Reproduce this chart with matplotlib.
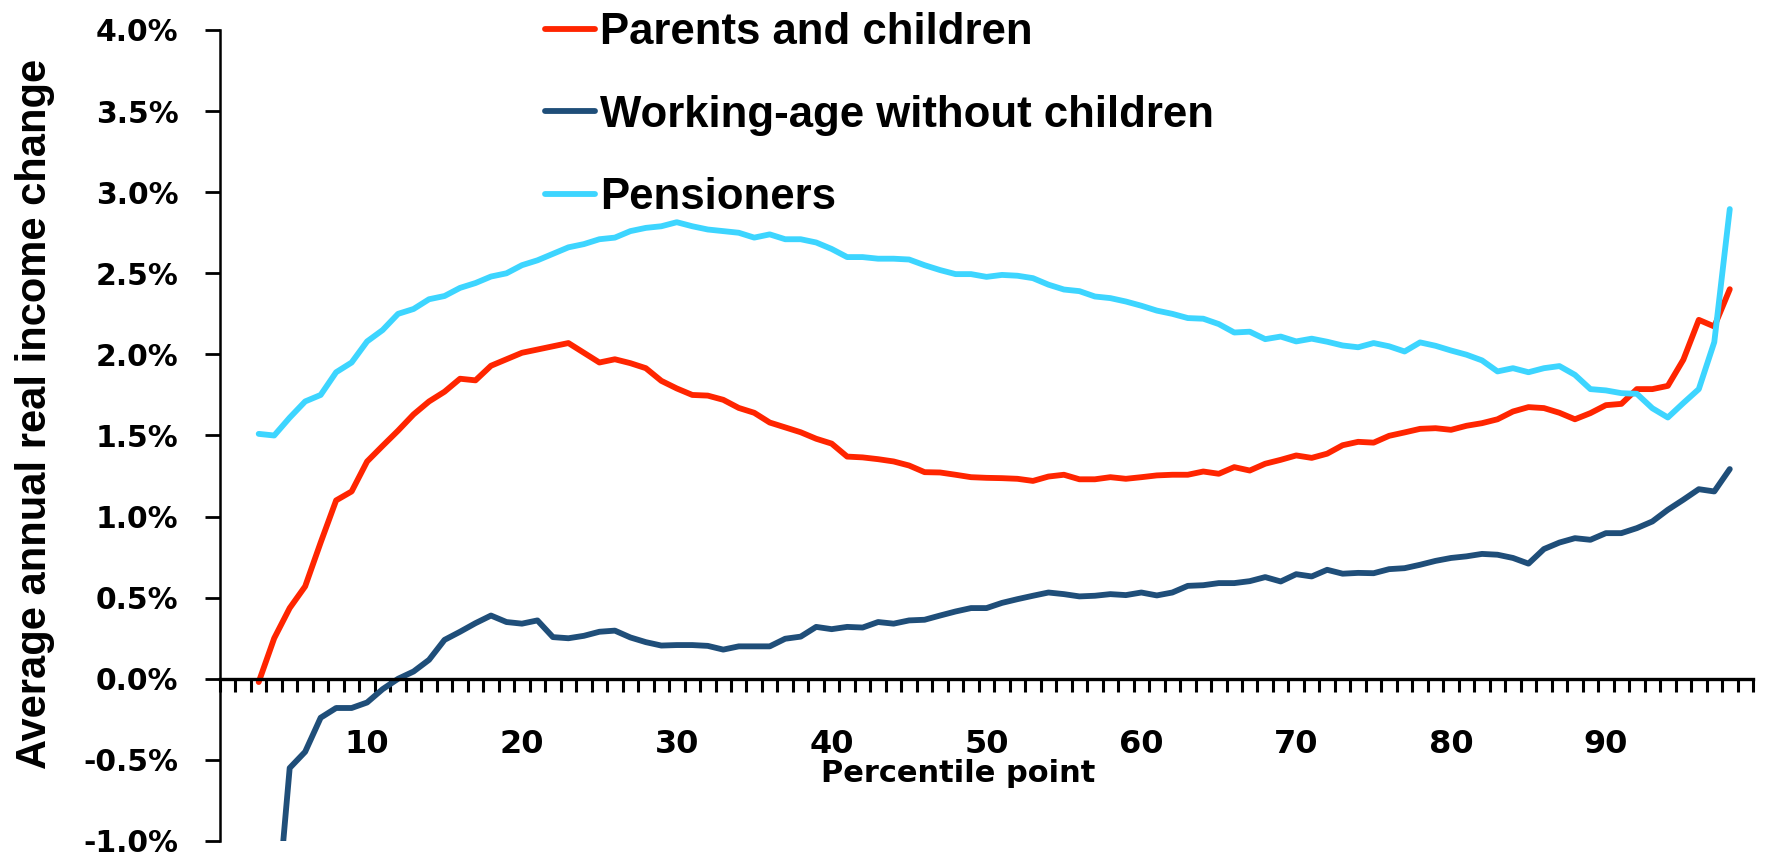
import numpy as np
import matplotlib
matplotlib.use("Agg")
import matplotlib.pyplot as plt
from matplotlib.ticker import FixedLocator, FuncFormatter

# ---------------- data (percentile points 3..98) ----------------
percentiles = np.arange(3, 99)

parents_children = [
    -0.02, 0.25, 0.436, 0.57, 0.84, 1.10, 1.155, 1.34, 1.436, 1.53,
    1.63, 1.71, 1.77, 1.85, 1.84, 1.93, 1.97, 2.01, 2.03, 2.05,
    2.07, 2.01, 1.95, 1.97, 1.946, 1.915, 1.837, 1.79, 1.75, 1.746,
    1.72, 1.67, 1.64, 1.58, 1.55, 1.52, 1.48, 1.45, 1.37, 1.365,
    1.354, 1.34, 1.315, 1.274, 1.272, 1.258, 1.243, 1.239, 1.237, 1.233,
    1.22, 1.247, 1.258, 1.23, 1.23, 1.243, 1.233, 1.243, 1.254, 1.258,
    1.258, 1.278, 1.264, 1.305, 1.284, 1.326, 1.35, 1.377, 1.362, 1.388,
    1.44, 1.461, 1.456, 1.498, 1.519, 1.541, 1.545, 1.535, 1.56, 1.576,
    1.60, 1.648, 1.675, 1.669, 1.64, 1.60, 1.638, 1.687, 1.695, 1.786,
    1.786, 1.806, 1.967, 2.213, 2.172, 2.402,
]

working_age = [
    np.nan, -1.64, -0.55, -0.45, -0.24, -0.18, -0.18, -0.146, -0.064, 0.0,
    0.045, 0.117, 0.24, 0.29, 0.343, 0.39, 0.35, 0.34, 0.36, 0.257,
    0.25, 0.265, 0.29, 0.297, 0.255, 0.226, 0.205, 0.208, 0.208, 0.203,
    0.18, 0.20, 0.20, 0.20, 0.247, 0.26, 0.32, 0.306, 0.32, 0.316,
    0.35, 0.34, 0.36, 0.364, 0.39, 0.415, 0.436, 0.436, 0.468, 0.491,
    0.512, 0.532, 0.522, 0.508, 0.512, 0.522, 0.516, 0.532, 0.514, 0.532,
    0.573, 0.577, 0.59, 0.59, 0.602, 0.627, 0.60, 0.645, 0.631, 0.672,
    0.648, 0.653, 0.651, 0.676, 0.682, 0.703, 0.727, 0.745, 0.755, 0.77,
    0.765, 0.745, 0.71, 0.80, 0.84, 0.867, 0.857, 0.898, 0.898, 0.929,
    0.97, 1.042, 1.104, 1.169, 1.155, 1.293,
]

pensioners = [
    1.51, 1.50, 1.61, 1.71, 1.75, 1.89, 1.95, 2.08, 2.15, 2.25,
    2.28, 2.34, 2.36, 2.41, 2.44, 2.48, 2.50, 2.55, 2.58, 2.62,
    2.66, 2.68, 2.71, 2.72, 2.76, 2.78, 2.79, 2.815, 2.79, 2.77,
    2.76, 2.75, 2.72, 2.74, 2.71, 2.71, 2.69, 2.65, 2.60, 2.60,
    2.59, 2.59, 2.585, 2.55, 2.52, 2.495, 2.495, 2.478, 2.49, 2.485,
    2.47, 2.43, 2.40, 2.39, 2.357, 2.347, 2.326, 2.30, 2.27, 2.25,
    2.224, 2.22, 2.187, 2.135, 2.14, 2.094, 2.11, 2.08, 2.097, 2.078,
    2.055, 2.044, 2.07, 2.05, 2.018, 2.074, 2.053, 2.024, 1.998, 1.963,
    1.895, 1.915, 1.89, 1.915, 1.928, 1.874, 1.786, 1.778, 1.761, 1.757,
    1.668, 1.611, 1.70, 1.786, 2.076, 2.896,
]

series_labels = ["Parents and children", "Working-age without children", "Pensioners"]
series_colors = ["#FF2500", "#1F4E79", "#3DD5FF"]

x_tick_values = [10, 20, 30, 40, 50, 60, 70, 80, 90]
y_tick_values = [-1.0, -0.5, 0.0, 0.5, 1.0, 1.5, 2.0, 2.5, 3.0, 3.5, 4.0]
n_categories = 99

# ---------------- figure ----------------
W, H = 1769, 864
fig = plt.figure(figsize=(W / 100, H / 100), dpi=100)
ax = fig.add_axes([220 / W, 23 / H, 1533 / W, 811 / H])

for vals, lab, col in zip([parents_children, working_age, pensioners],
                          series_labels, series_colors):
    ax.plot(percentiles, vals, color=col, lw=4.2, label=lab,
            solid_capstyle="round", solid_joinstyle="round")

ax.set_xlim(0.5, n_categories + 0.5)
ax.set_ylim(-1.0, 4.0)

# spines
ax.spines["top"].set_visible(False)
ax.spines["right"].set_visible(False)
ax.spines["bottom"].set_position(("data", 0))
ax.spines["bottom"].set_linewidth(2.4)
ax.spines["left"].set_linewidth(1.8)

# y ticks
ax.yaxis.set_major_locator(FixedLocator(y_tick_values))
ax.yaxis.set_major_formatter(FuncFormatter(lambda v, p: f"{v:.1f}%"))
ax.tick_params(axis="y", which="major", direction="out", length=11, width=2,
               pad=19, labelsize=21.5)

# x ticks: labels at 10..90, category boundary ticks as minor
ax.xaxis.set_major_locator(FixedLocator(x_tick_values))
ax.xaxis.set_minor_locator(FixedLocator(np.arange(0.5, n_categories + 1, 1.0)))
ax.tick_params(axis="x", which="major", length=0, pad=36, labelsize=23)
ax.tick_params(axis="x", which="minor", direction="out", length=9, width=2.2)

for lbl in ax.get_xticklabels() + ax.get_yticklabels():
    lbl.set_fontweight("bold")
    lbl.set_family("DejaVu Sans")

# axis labels
ax.set_xlabel("Percentile point", fontsize=22, fontweight="bold",
              family="DejaVu Sans")
ax.xaxis.set_label_coords((958 - 220) / 1533, 0.1016)
ax.set_ylabel("Average annual real income change", fontsize=30,
              fontweight="bold", family="Liberation Sans")
ax.yaxis.set_label_coords(-(220 - 55) / 1533, (841 - 414) / 811)

# legend
leg = ax.legend(loc="upper left", bbox_to_anchor=(545 / W, 852 / H),
                bbox_transform=fig.transFigure, frameon=False,
                prop={"family": "Liberation Sans", "weight": "bold", "size": 31.5},
                handlelength=1.15, handletextpad=0.1, labelspacing=0.95,
                borderpad=0, borderaxespad=0)
for line in leg.get_lines():
    line.set_linewidth(4.2)

fig.savefig("out.png", dpi=100)
